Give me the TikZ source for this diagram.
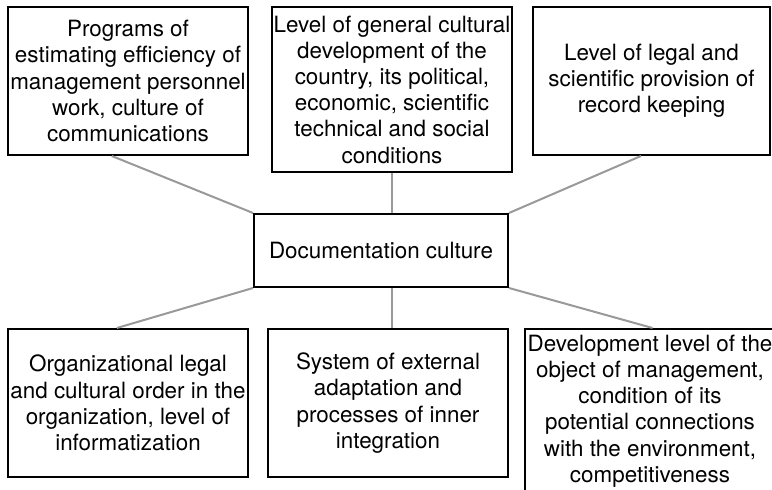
\documentclass[tikz,border=0pt]{standalone}
\usepackage{fontspec}
\setmainfont{TeX Gyre Heros}
\usetikzlibrary{calc}

\begin{document}
\begin{tikzpicture}[
  x=0.5pt,y=-0.5pt,
  factor/.style={draw,line width=1pt,align=center,inner sep=0pt,minimum width=120pt,minimum height=74pt,
    font=\fontsize{11.2}{13.1}\selectfont},
  hub/.style={factor,minimum width=127pt,minimum height=36.5pt},
  link/.style={draw=black!40,line width=1pt}
]
\clip (0,0) rectangle (772,490);
\node[factor] (prog) at (128,81) {Programs of\\estimating efficiency of\\management personnel\\work, culture of\\communications};
\node[factor,minimum height=82.5pt] (devel) at (392,89.5) {Level of general cultural\\development of the\\country, its political,\\economic, scientific\\technical and social\\conditions};
\node[factor,minimum width=118.5pt] (legal) at (651.5,81) {Level of legal and\\scientific provision of\\record keeping};
\node[hub] (core) at (381,250.5) {Documentation culture};
\node[factor] (order) at (128,403) {Organizational legal\\and cultural order in the\\organization, level of\\informatization};
\node[factor] (adapt) at (388,403) {System of external\\adaptation and\\processes of inner\\integration};
\node[factor,minimum width=125pt,minimum height=0pt,inner ysep=3pt,anchor=north] (object) at (650,328)
  {Development level of the\\object of management,\\condition of its\\potential connections\\with the environment,\\competitiveness};
% links to the centre
\draw[link] ($(prog.south west)!0.433!(prog.south east)$) -- (core.north west);
\draw[link] (devel.south) -- (devel.south |- core.north);
\draw[link] ($(legal.south west)!0.456!(legal.south east)$) -- (core.north east);
\draw[link] (core.south west) -- ($(order.north west)!0.454!(order.north east)$);
\draw[link] (core.south -| devel.south) -- (devel.south |- adapt.north);
\draw[link] (core.south east) -- ($(object.north west)!0.51!(object.north east)$);
\end{tikzpicture}
\end{document}
